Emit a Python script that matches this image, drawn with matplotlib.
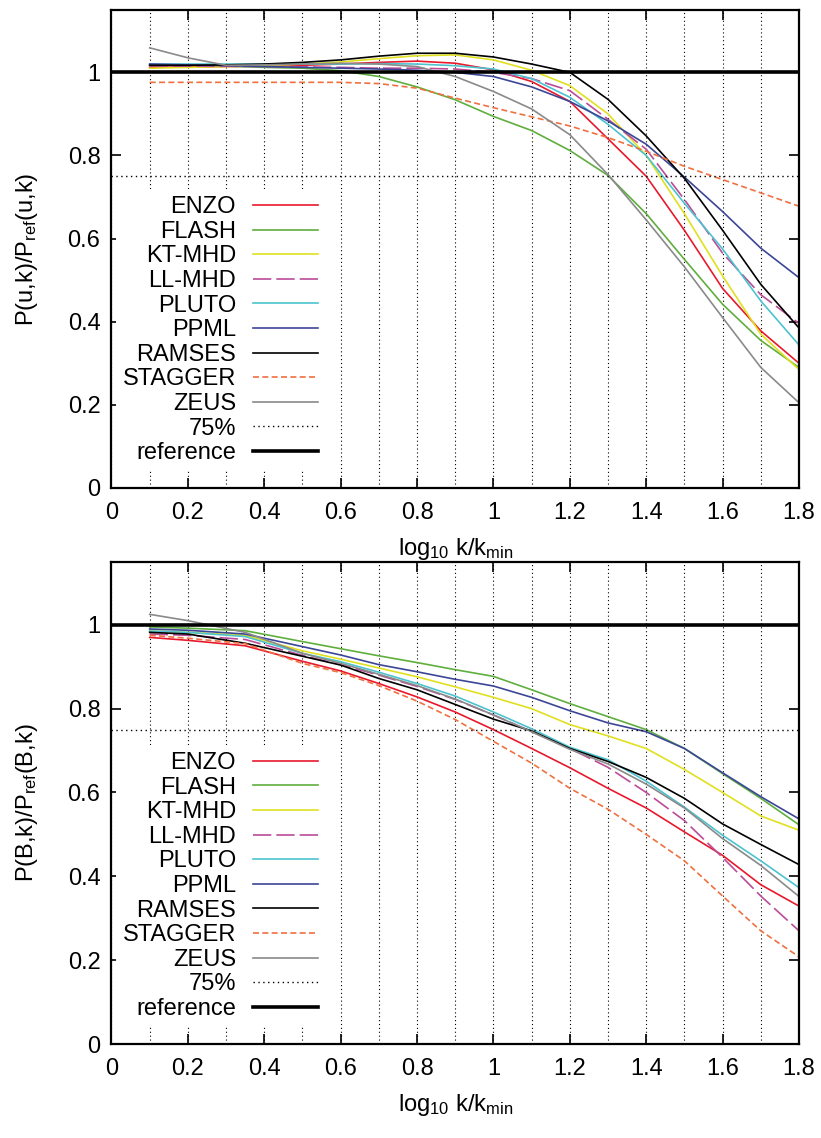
import matplotlib
matplotlib.use('Agg')
import matplotlib.pyplot as plt
from matplotlib.ticker import MultipleLocator, FuncFormatter

plt.rcParams['font.family'] = ['Liberation Sans', 'DejaVu Sans']
plt.rcParams['mathtext.fontset'] = 'custom'
plt.rcParams['mathtext.rm'] = 'Liberation Sans'
plt.rcParams['mathtext.default'] = 'regular'

# kode in barve
kode = ['ENZO', 'FLASH', 'KT-MHD', 'LL-MHD', 'PLUTO', 'PPML', 'RAMSES', 'STAGGER', 'ZEUS']
barve = ['#e8192c', '#5fae3e', '#e0e020', '#bb4c98', '#4cc3cf', '#3c4696', '#000000', '#f07040', '#8a8a8a']
crte = ['-', '-', '-', (0, (11, 3)), '-', '-', '-', (0, (3.6, 2)), '-']

# zgornji graf: hitrost
x_u = [0.1, 0.2, 0.3, 0.4, 0.5, 0.6, 0.7, 0.8, 0.9, 1.0, 1.1, 1.2, 1.3, 1.4, 1.5, 1.6, 1.7, 1.8]
enzo_u = [1.012, 1.013, 1.014, 1.015, 1.017, 1.020, 1.024, 1.027, 1.022, 1.006, 0.978, 0.930, 0.840, 0.750, 0.620, 0.480, 0.378, 0.300]
flash_u = [1.018, 1.017, 1.015, 1.012, 1.010, 1.004, 0.990, 0.965, 0.934, 0.894, 0.860, 0.812, 0.752, 0.660, 0.550, 0.442, 0.355, 0.290]
ktmhd_u = [1.010, 1.012, 1.014, 1.016, 1.020, 1.025, 1.033, 1.040, 1.042, 1.030, 1.005, 0.968, 0.900, 0.800, 0.660, 0.510, 0.370, 0.285]
llmhd_u = [1.015, 1.015, 1.015, 1.014, 1.013, 1.012, 1.010, 1.010, 1.008, 1.000, 0.985, 0.956, 0.887, 0.815, 0.694, 0.565, 0.465, 0.396]
pluto_u = [1.020, 1.020, 1.020, 1.020, 1.020, 1.020, 1.021, 1.020, 1.016, 1.008, 0.985, 0.940, 0.875, 0.800, 0.685, 0.575, 0.450, 0.344]
ppml_u = [1.020, 1.018, 1.016, 1.014, 1.012, 1.010, 1.008, 1.005, 1.000, 0.990, 0.965, 0.930, 0.883, 0.827, 0.748, 0.665, 0.577, 0.506]
ramses_u = [1.017, 1.017, 1.018, 1.020, 1.024, 1.030, 1.039, 1.046, 1.046, 1.037, 1.020, 1.000, 0.935, 0.847, 0.745, 0.620, 0.490, 0.385]
stagger_u = [0.976, 0.976, 0.976, 0.976, 0.976, 0.976, 0.973, 0.962, 0.938, 0.915, 0.893, 0.871, 0.843, 0.810, 0.774, 0.742, 0.710, 0.678]
zeus_u = [1.059, 1.035, 1.017, 1.018, 1.020, 1.022, 1.020, 1.014, 0.990, 0.954, 0.912, 0.850, 0.754, 0.645, 0.532, 0.410, 0.290, 0.205]

# spodnji graf: magnetno polje
x_b = [0.1, 0.2, 0.35, 0.5, 0.6, 0.7, 0.8, 0.9, 1.0, 1.1, 1.2, 1.3, 1.4, 1.5, 1.6, 1.7, 1.8]
enzo_b = [0.970, 0.963, 0.950, 0.913, 0.890, 0.860, 0.828, 0.792, 0.750, 0.705, 0.659, 0.610, 0.563, 0.506, 0.450, 0.380, 0.329]
flash_b = [0.995, 0.992, 0.986, 0.960, 0.943, 0.926, 0.910, 0.893, 0.877, 0.845, 0.812, 0.781, 0.750, 0.705, 0.645, 0.586, 0.523]
ktmhd_b = [0.985, 0.982, 0.975, 0.938, 0.918, 0.897, 0.876, 0.852, 0.827, 0.800, 0.762, 0.735, 0.705, 0.655, 0.600, 0.544, 0.510]
llmhd_b = [0.978, 0.975, 0.965, 0.927, 0.905, 0.880, 0.853, 0.822, 0.785, 0.745, 0.705, 0.660, 0.600, 0.533, 0.445, 0.353, 0.270]
pluto_b = [0.985, 0.982, 0.972, 0.932, 0.912, 0.887, 0.860, 0.830, 0.792, 0.752, 0.708, 0.678, 0.627, 0.565, 0.498, 0.437, 0.373]
ppml_b = [0.990, 0.987, 0.978, 0.948, 0.928, 0.905, 0.888, 0.870, 0.854, 0.827, 0.795, 0.766, 0.745, 0.705, 0.647, 0.590, 0.537]
ramses_b = [0.982, 0.978, 0.956, 0.925, 0.904, 0.872, 0.845, 0.810, 0.775, 0.747, 0.705, 0.674, 0.636, 0.586, 0.525, 0.476, 0.428]
stagger_b = [0.975, 0.968, 0.955, 0.908, 0.886, 0.855, 0.818, 0.774, 0.722, 0.670, 0.610, 0.560, 0.500, 0.437, 0.353, 0.270, 0.208]
zeus_b = [1.025, 1.010, 0.982, 0.932, 0.908, 0.882, 0.855, 0.823, 0.785, 0.745, 0.703, 0.668, 0.620, 0.563, 0.490, 0.426, 0.352]

podatki_u = [enzo_u, flash_u, ktmhd_u, llmhd_u, pluto_u, ppml_u, ramses_u, stagger_u, zeus_u]
podatki_b = [enzo_b, flash_b, ktmhd_b, llmhd_b, pluto_b, ppml_b, ramses_b, stagger_b, zeus_b]

x_tick_labels = ['0', '0.2', '0.4', '0.6', '0.8', '1', '1.2', '1.4', '1.6', '1.8']

fs = 17

fig = plt.figure(figsize=(8.21, 11.38), dpi=100)
ax_u = fig.add_axes([0.1358, 0.5712, 0.8374, 0.4200])
ax_b = fig.add_axes([0.1358, 0.0826, 0.8374, 0.4236])


def oznaka_x(v, p):
    i = int(round(v / 0.2))
    if 0 <= i < len(x_tick_labels):
        return x_tick_labels[i]
    return ''


def narisi(ax, x, podatki, ylabel):
    '''Nariše vse krivulje, 75% črto in referenco na os ax'''
    for ime, y, barva, crta in zip(kode, podatki, barve, crte):
        ax.plot(x, y, color=barva, linestyle=crta, linewidth=1.2, label=ime)
    ax.axhline(0.75, color='black', linestyle=(0, (1, 2.5)), linewidth=1.0, label='75%')
    ax.axhline(1.0, color='black', linewidth=2.6, label='reference')

    ax.set_xlim(0, 1.8)
    ax.set_ylim(0, 1.15)
    ax.xaxis.set_major_locator(MultipleLocator(0.2))
    ax.xaxis.set_minor_locator(MultipleLocator(0.1))
    ax.yaxis.set_major_locator(MultipleLocator(0.2))
    ax.xaxis.set_major_formatter(FuncFormatter(oznaka_x))
    ax.yaxis.set_major_formatter(FuncFormatter(lambda v, p: '%g' % round(v, 2)))
    ax.grid(which='both', axis='x', color='black', linestyle=(0, (1, 2.5)), linewidth=0.8)
    ax.tick_params(which='major', direction='in', length=7, width=1.2, top=True, right=True, labelsize=fs)
    ax.tick_params(axis='x', which='major', pad=10)
    ax.tick_params(axis='y', which='major', pad=8)
    ax.tick_params(which='minor', length=0, top=True, right=True)
    for s in ax.spines.values():
        s.set_linewidth(1.6)

    ax.set_xlabel('log$_{10}$ k/k$_{min}$', fontsize=fs, labelpad=9)
    ax.set_ylabel(ylabel, fontsize=fs)
    ax.yaxis.set_label_coords(-0.104, 0.5)

    leg = ax.legend(loc='lower left', bbox_to_anchor=(0.006, 0.035), borderaxespad=0, markerfirst=False,
                    fontsize=fs, handlelength=2.75, handletextpad=0.72, labelspacing=0.11,
                    frameon=True, fancybox=False, framealpha=1, facecolor='white', edgecolor='none',
                    borderpad=0.3)
    leg.set_zorder(5)


narisi(ax_u, x_u, podatki_u, 'P(u,k)/P$_{ref}$(u,k)')
narisi(ax_b, x_b, podatki_b, 'P(B,k)/P$_{ref}$(B,k)')

fig.savefig('out.png', dpi=100)
